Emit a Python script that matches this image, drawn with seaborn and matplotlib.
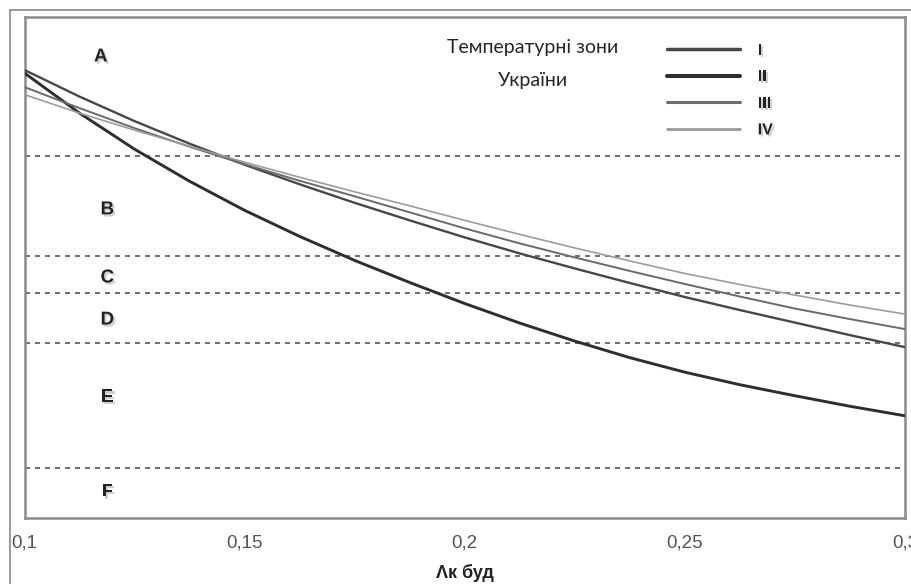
#%%
# Packages
import pandas as pd
import matplotlib.pyplot as plt
import matplotlib.patheffects as pe
from matplotlib.lines import Line2D
import seaborn as sns

sns.set_style("white")
plt.rcParams['font.family'] = ['Liberation Sans', 'DejaVu Sans']

#%%
# Data (y in relative units, 0 = bottom of plot, 100 = top)
x_vals = [0.100, 0.1125, 0.125, 0.1375, 0.150, 0.1625, 0.175, 0.1875, 0.200,
          0.2125, 0.225, 0.2375, 0.250, 0.2625, 0.275, 0.2875, 0.300]

zone_I = [89.4, 84.1, 79.2, 74.7, 70.5, 66.6, 62.9, 59.4, 56.0,
          52.8, 49.8, 46.9, 44.1, 41.5, 39.0, 36.5, 34.1]
zone_II = [88.8, 80.8, 73.6, 67.2, 61.4, 56.2, 51.4, 47.0, 42.8,
           38.9, 35.3, 32.0, 29.1, 26.6, 24.4, 22.3, 20.4]
zone_III = [86.0, 81.8, 77.8, 74.1, 70.6, 67.3, 64.2, 61.0, 57.8,
            54.8, 52.0, 49.3, 46.7, 44.2, 41.8, 39.7, 37.7]
zone_IV = [84.5, 80.8, 77.4, 74.2, 71.0, 68.0, 65.1, 62.3, 59.4,
           56.6, 53.9, 51.3, 48.8, 46.6, 44.5, 42.5, 40.7]

zone_names = ["I", "II", "III", "IV"]
class_bounds = [72.3, 52.2, 45.0, 35.0, 9.9]
class_labels = ["A", "B", "C", "D", "E", "F"]
class_label_y = [92.0, 61.5, 47.9, 39.5, 24.0, 5.2]
x_ticks = [0.1, 0.15, 0.2, 0.25, 0.3]
x_ticklabels = ["0,1", "0,15", "0,2", "0,25", "0,3"]

df = pd.DataFrame({
    'x': x_vals * 4,
    'y': zone_I + zone_II + zone_III + zone_IV,
    'zone': [z for z in zone_names for _ in x_vals],
})

#%%
# Plot
fig = plt.figure(figsize=(9.12, 5.84), dpi=100)
ax = fig.add_axes([0.0269, 0.113, 0.9654, 0.858])

styles = {
    "I": ("#474747", 1.7),
    "II": ("#2e2e2e", 2.1),
    "III": ("#6a6a6a", 1.4),
    "IV": ("#9c9c9c", 1.2),
}

for y0 in class_bounds:
    ax.axhline(y0, color="#555555", lw=1.2, ls=(0, (3, 3)), zorder=1)

for z in zone_names:
    color, lw = styles[z]
    sns.lineplot(data=df[df['zone'] == z], x='x', y='y', color=color,
                 linewidth=lw, ax=ax, zorder=3)

shadow = [pe.SimplePatchShadow(offset=(1.5, -1.5), shadow_rgbFace="#bbbbbb", alpha=0.7),
          pe.Normal()]
for lab, ly in zip(class_labels, class_label_y):
    lx = 0.1173 if lab == "A" else 0.1188
    ax.text(lx, ly, lab, ha='center', va='center', fontsize=13.5,
            fontweight='bold', color="#222222", path_effects=shadow)

ax.text(0.2155, 94.0, "Температурні зони", ha='center', va='center',
        fontsize=14, family=['Lato', 'DejaVu Sans'])
ax.text(0.2155, 87.4, "України", ha='center', va='center',
        fontsize=14, family=['Lato', 'DejaVu Sans'])

handles = [Line2D([], [], color=styles[z][0], lw=styles[z][1] + 0.8) for z in zone_names]
leg = ax.legend(handles, zone_names, loc='upper left', bbox_to_anchor=(0.713, 0.977),
                frameon=False, handlelength=4.6, handletextpad=1.1,
                labelspacing=0.72, prop={'weight': 'bold', 'size': 11.5})
for t in leg.get_texts():
    t.set_color("#222222")
    t.set_path_effects(shadow)

ax.set_xlim(0.1, 0.3)
ax.set_ylim(0, 100)
ax.set_xticks(x_ticks)
ax.set_xticklabels(x_ticklabels, fontsize=13.5, color="#555555")
ax.set_yticks([])
ax.tick_params(axis='x', direction='out', length=4, width=1, color="#888888", pad=8)
ax.set_xlabel("Λк буд", fontsize=13, fontweight='bold', labelpad=9, color="#222222")
ax.set_ylabel("")
for s in ax.spines.values():
    s.set_color("#8a8a8a")
    s.set_linewidth(1.8)

# outer chart frame
fig.add_artist(Line2D([10 / 912, 10 / 912], [0, 574 / 584], color="#8a8a8a", lw=1.2,
                      transform=fig.transFigure))
fig.add_artist(Line2D([10 / 912, 1], [574 / 584, 574 / 584], color="#8a8a8a", lw=1.2,
                      transform=fig.transFigure))

fig.savefig("out.png", dpi=100)
